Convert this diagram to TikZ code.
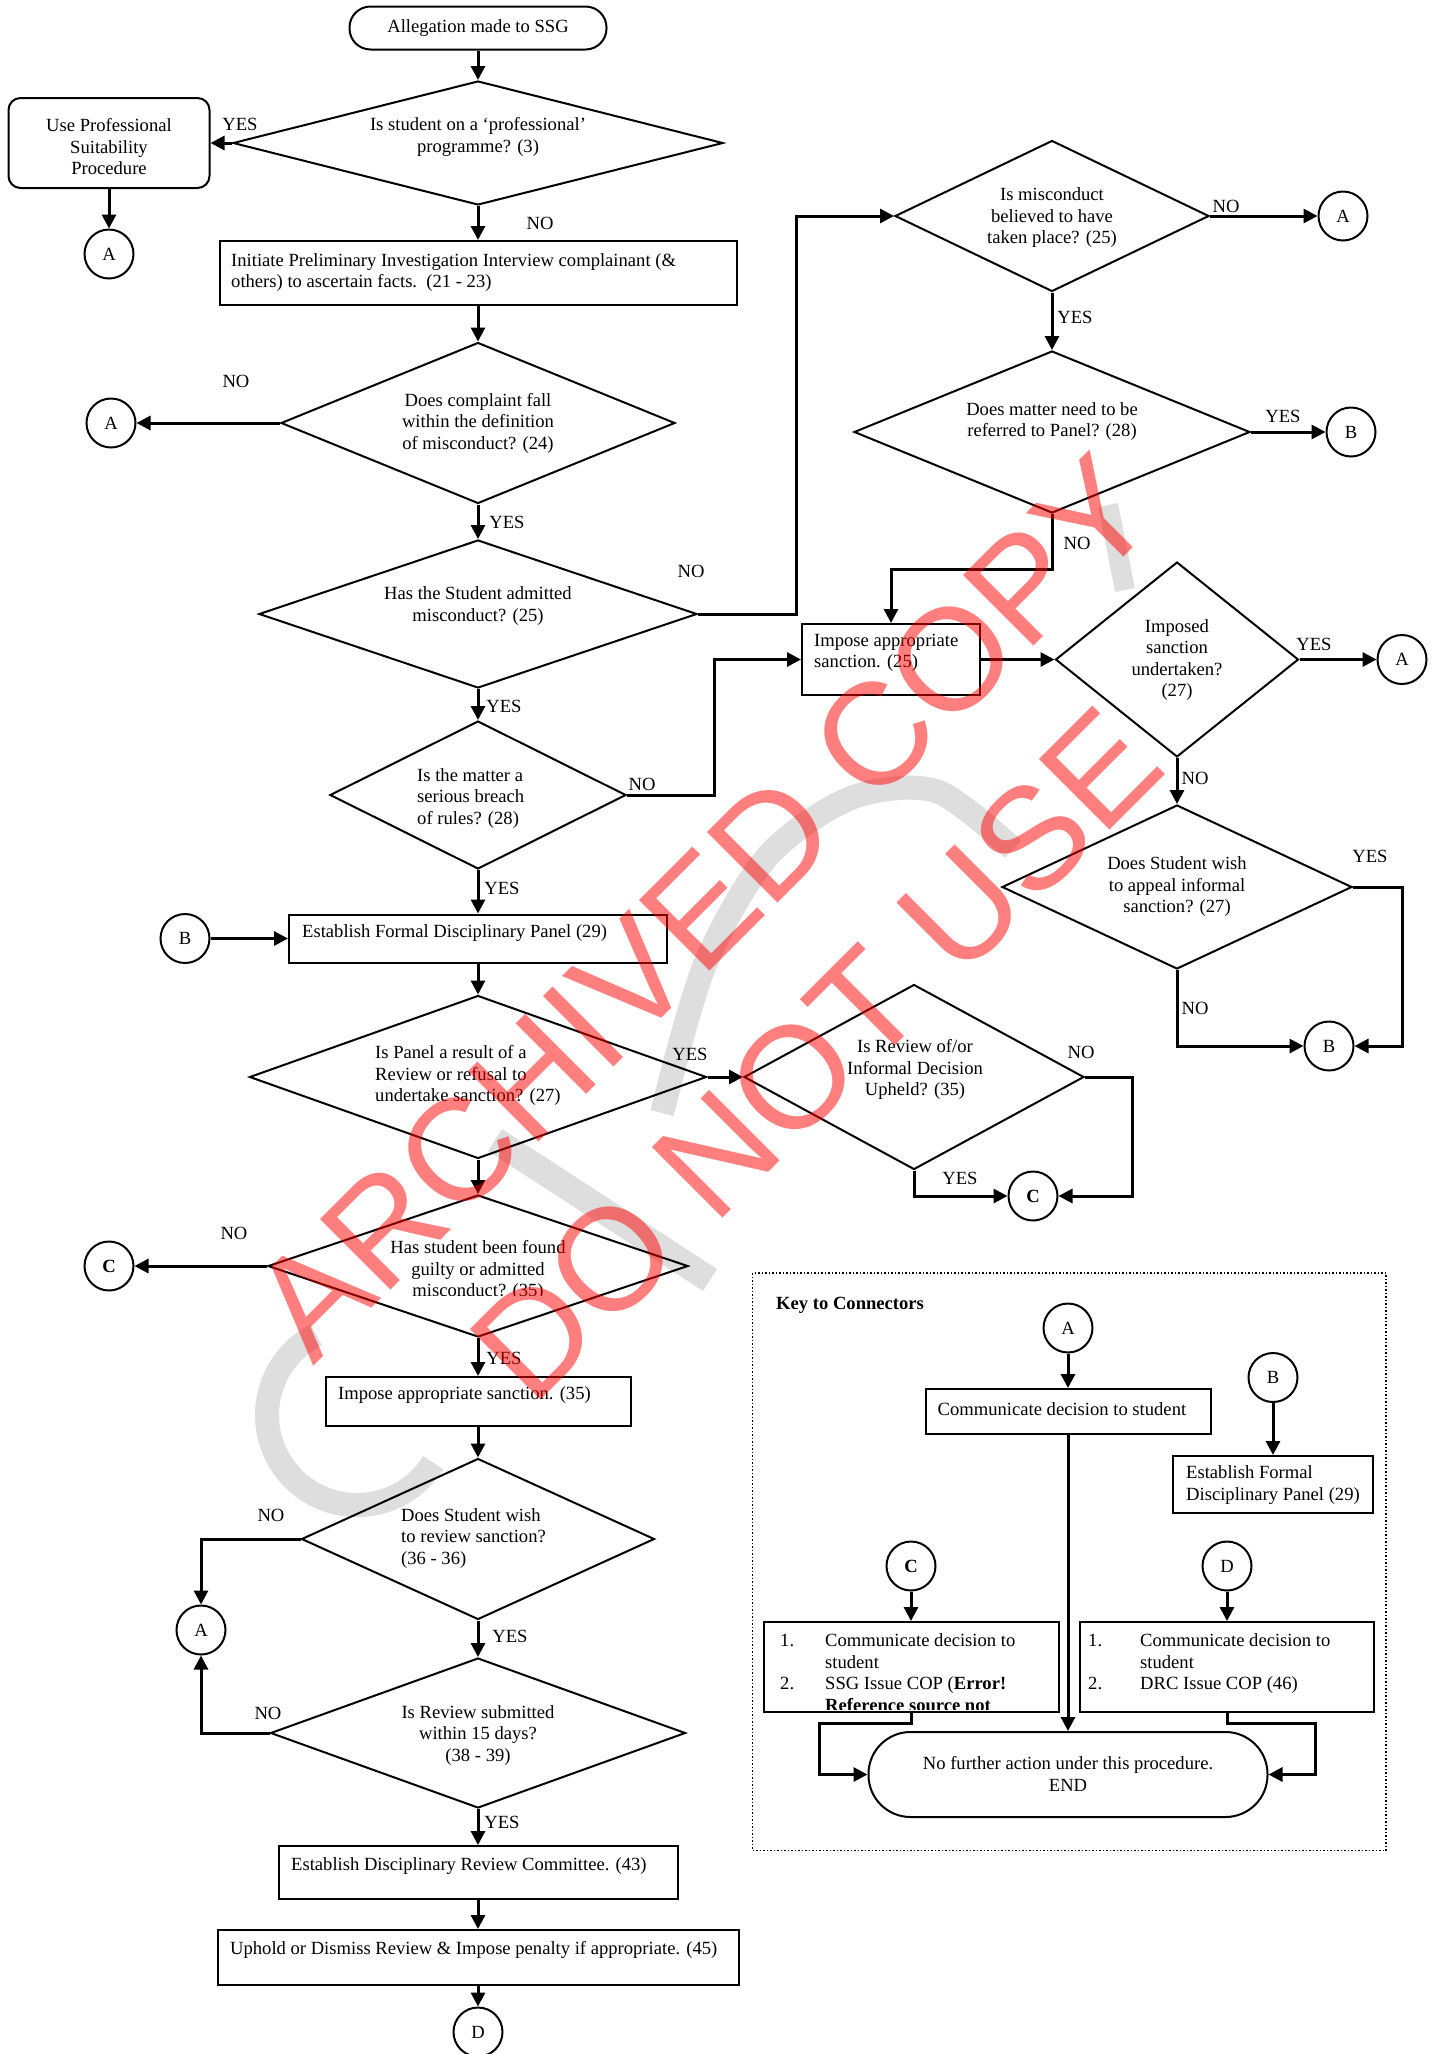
\documentclass[tikz,border=0pt]{standalone}
\usepackage{fontspec}
\setmainfont{Liberation Serif}
\newfontfamily\wmfont{Liberation Sans}
\usetikzlibrary{shapes.geometric,arrows.meta}
\definecolor{wmgrey}{RGB}{222,222,222}
\begin{document}
\begin{tikzpicture}[x=1pt,y=-1pt,
  every node/.style={font=\fontsize{18.6}{21.5}\selectfont, inner sep=0pt},
  shp/.style={draw, line width=2pt},
  dia/.style={shp, diamond, inner sep=0pt},
  boxn/.style={shp, rectangle},
  circ/.style={shp, circle, minimum size=49pt},
  conn/.style={line width=3pt, -{Triangle[length=14pt,width=14pt]}},
  tl/.style={align=left, anchor=west},
  tc/.style={align=center},
  kl/.style={anchor=base west},
  grey band/.style={wmgrey, line width=24pt},
  wm/.style={font=\wmfont\fontsize{145}{145}\selectfont, text=red, text opacity=0.5, rotate=45}
]
\useasboundingbox (0,0) rectangle (1439,2054);
\fill[white] (0,0) rectangle (1439,2054);

% grey background logo (approximation)
\draw[grey band] (357,1415) ++(117:90pt) arc[start angle=117, end angle=328, radius=90pt];
\draw[grey band] plot[smooth] coordinates {(662,1113) (704,967) (767,857) (851,798) (936,791) (1013,849)};
\draw[grey band, line width=26pt] (495,1140) -- (710,1280);
\draw[grey band, line width=20pt] (1108,505) -- (1125,590);

% ---------- main column ----------
\node[boxn, rounded corners=21pt, minimum width=257pt, minimum height=43pt] (start) at (478,28) {Allegation made to SSG};
\node[dia, minimum width=490pt, minimum height=124pt] (d1) at (478,143) {};
\node[tc] (t1) at (478,137) {Is student on a ‘professional’\\programme? (3)};
\node[boxn, rounded corners=12pt, minimum width=201pt, minimum height=90pt] (ups) at (109,143) {};
\node[tc] (tups) at (109,147) {Use Professional\\Suitability\\Procedure};
\node (l1) at (240,124) {YES};
\node[circ] (ca1) at (109,254) {A};
\node (l2) at (540,223) {NO};
\node[boxn, minimum width=517pt, minimum height=64pt] (b1) at (478,273) {};
\node[tl] (tb1) at (231,272.5) {Initiate Preliminary Investigation Interview complainant (\&\\others) to ascertain facts.\ \ (21 - 23)};

\node[dia, minimum width=394pt, minimum height=161pt] (d2) at (478,423) {};
\node[tc] (t2) at (478,423) {Does complaint fall\\within the definition\\of misconduct? (24)};
\node (l3) at (236,381) {NO};
\node[circ] (ca2) at (111,423) {A};
\node (l4) at (507,522) {YES};

\node[dia, minimum width=438pt, minimum height=148pt] (d3) at (478,614) {};
\node[tc] (t3) at (478,606) {Has the Student admitted\\misconduct? (25)};
\node (l5) at (691,571) {NO};
\node (l6) at (504,706) {YES};

\node[dia, minimum width=296pt, minimum height=148pt] (d4) at (478,795) {};
\node[tl] (t4) at (417,798.5) {Is the matter a\\serious breach\\of rules? (28)};
\node (l7) at (642,784) {NO};

% ---------- right column ----------
\node[dia, minimum width=314pt, minimum height=151pt] (d5) at (1052,216) {};
\node[tc] (t5) at (1052,218) {Is misconduct\\believed to have\\taken place? (25)};
\node (l8) at (1226,206) {NO};
\node[circ] (ca3) at (1343,216) {A};
\node (l9) at (1075,317) {YES};

\node[dia, minimum width=396pt, minimum height=162pt] (d6) at (1052,432) {};
\node[tc] (t6) at (1052,421.5) {Does matter need to be\\referred to Panel? (28)};
\node (l10) at (1283,416) {YES};
\node[circ] (cb1) at (1351,432) {B};
\node (l11) at (1077,543) {NO};

\node[boxn, minimum width=178pt, minimum height=71pt] (imp25) at (891,659.5) {};
\node[tl] (timp25) at (814,653) {Impose appropriate\\sanction. (25)};
\node[dia, minimum width=243pt, minimum height=195pt] (d7) at (1177,659.5) {};
\node[tc] (t7) at (1177,660) {Imposed\\sanction\\undertaken?\\(27)};
\node (l12) at (1314,644) {YES};
\node[circ] (ca4) at (1402,659.5) {A};
\node (l13) at (1195,778) {NO};

\node[dia, minimum width=350pt, minimum height=164pt] (d8) at (1177,887) {};
\node[tc] (t8) at (1177,887) {Does Student wish\\to appeal informal\\sanction? (27)};
\node (l14) at (1370,856) {YES};
\node[circ] (cb2) at (1329,1046) {B};
\node (l15) at (1195,1008) {NO};

% ---------- middle ----------
\node (l16) at (502,888) {YES};
\node[boxn, minimum width=378pt, minimum height=48pt] (fp) at (478,938.5) {};
\node[tl] (tfp) at (302,933) {Establish Formal Disciplinary Panel (29)};
\node[circ] (cb3) at (185,938.5) {B};

\node[dia, minimum width=457pt, minimum height=163pt] (d9) at (478,1077) {};
\node[tl] (t9) at (375,1075.5) {Is Panel a result of a\\Review or refusal to\\undertake sanction? (27)};
\node (l17) at (690,1054) {YES};

\node[dia, minimum width=340pt, minimum height=185pt] (d10) at (914,1077) {};
\node[tc] (t10) at (915,1069.5) {Is Review of/or\\Informal Decision\\Upheld? (35)};
\node (l18) at (1081,1052) {NO};
\node[circ] (cc2) at (1033,1196) {\bfseries C};
\node (l19) at (960,1178) {YES};

\node[dia, minimum width=420pt, minimum height=142pt] (d11) at (478,1266) {};
\begin{scope}
\clip (250,1225) rectangle (720,1295);
\node[tc] (t11) at (478,1270.5) {Has student been found\\guilty or admitted\\misconduct? (35)};
\end{scope}
\node (l20) at (234,1233) {NO};
\node[circ] (cc1) at (109,1266) {\bfseries C};
\node (l21) at (504,1358) {YES};

\node[boxn, minimum width=305pt, minimum height=49pt] (imp35) at (478,1401.5) {};
\node[tl] (timp35) at (338,1395) {Impose appropriate sanction. (35)};

\node[dia, minimum width=353pt, minimum height=161pt] (d12) at (478,1539) {};
\node[tl] (t12) at (401,1538.5) {Does Student wish\\to review sanction?\\(36 - 36)};
\node (l22) at (271,1515) {NO};
\node[circ] (ca5) at (201,1630) {A};
\node (l23) at (510,1636) {YES};

\node[dia, minimum width=415pt, minimum height=150pt] (d13) at (478,1733) {};
\node[tc] (t13) at (478,1735.5) {Is Review submitted\\within 15 days?\\(38 - 39)};
\node (l24) at (268,1713) {NO};
\node (l25) at (502,1822) {YES};

\node[boxn, minimum width=399pt, minimum height=53pt] (drc) at (478,1872.5) {};
\node[tl] (tdrc) at (291,1866) {Establish Disciplinary Review Committee. (43)};
\node[boxn, minimum width=521pt, minimum height=55pt] (uph) at (478,1957.5) {};
\node[tl] (tuph) at (230,1950) {Uphold or Dismiss Review \& Impose penalty if appropriate. (45)};
\node[circ] (cd1) at (478,2032) {D};

% ---------- connectors ----------
\coordinate (j1) at (796,216);
\coordinate (j2) at (714,659.5);
\coordinate (j3) at (1052,569);
\coordinate (j4) at (1402,887);
\coordinate (j5) at (1132,1077);
\draw[conn] (start.south) -- (d1.north);
\draw[conn] (d1.west) -- (ups.east);
\draw[conn] (ups.south) -- (ca1.north);
\draw[conn] (d1.south) -- (b1.north);
\draw[conn] (b1.south) -- (d2.north);
\draw[conn] (d2.west) -- (ca2.east);
\draw[conn] (d2.south) -- (d3.north);
\draw[conn] (d3.south) -- (d4.north);
\draw[conn] (d3.east) -| (j1) -- (d5.west);
\draw[conn] (d4.east) -| (j2) -- (imp25.west);
\draw[conn] (d5.east) -- (ca3.west);
\draw[conn] (d5.south) -- (d6.north);
\draw[conn] (d6.east) -- (cb1.west);
\draw[conn] (d6.south) -- (j3) -| (imp25.north);
\draw[conn] (imp25.east) -- (d7.west);
\draw[conn] (d7.east) -- (ca4.west);
\draw[conn] (d7.south) -- (d8.north);
\draw[conn] (d8.east) -- (j4) |- (cb2.east);
\draw[conn] (d8.south) |- (cb2.west);
\draw[conn] (d4.south) -- (fp.north);
\draw[conn] (cb3.east) -- (fp.west);
\draw[conn] (fp.south) -- (d9.north);
\draw[conn] (d9.east) -- (d10.west);
\draw[conn] (d10.east) -- (j5) |- (cc2.east);
\draw[conn] (d10.south) |- (cc2.west);
\draw[conn] (d9.south) -- (d11.north);
\draw[conn] (d11.west) -- (cc1.east);
\draw[conn] (d11.south) -- (imp35.north);
\draw[conn] (imp35.south) -- (d12.north);
\draw[conn] (d12.west) -| (ca5.north);
\draw[conn] (d12.south) -- (d13.north);
\draw[conn] (d13.west) -| (ca5.south);
\draw[conn] (d13.south) -- (drc.north);
\draw[conn] (drc.south) -- (uph.north);
\draw[conn] (uph.south) -- (cd1.north);

% ---------- key ----------
\node[draw, line width=1.5pt, dotted, minimum width=633.5pt, minimum height=577.5pt] (key) at (1069.25,1561.75) {};
\node[anchor=west, font=\bfseries\fontsize{18.6}{21.5}\selectfont] (tkey) at (776,1305) {Key to Connectors};
\node[circ] (kA) at (1068,1328) {A};
\node[boxn, minimum width=285pt, minimum height=45pt] (kcomm) at (1068,1411.5) {};
\node[tl] (tkcomm) at (937.5,1409) {Communicate decision to student};
\node[circ] (kB) at (1273,1377.5) {B};
\node[boxn, minimum width=200pt, minimum height=57pt] (kfp) at (1273,1484.5) {};
\node[tl] (tkfp) at (1186,1485) {Establish Formal\\Disciplinary Panel (29)};
\node[circ] (kC) at (911,1566) {\bfseries C};
\node[boxn, minimum width=295pt, minimum height=89.5pt] (kcb) at (911,1666.75) {};
\node[circ] (kD) at (1227,1566) {D};
\node[boxn, minimum width=294pt, minimum height=89.5pt] (kdb) at (1227,1666.75) {};
\node[boxn, rounded corners=42pt, minimum width=399pt, minimum height=85pt] (kend) at (1068,1774.5) {};
\node[tc] (tkend) at (1068,1774) {No further action under this procedure.\\END};

\begin{scope}
\clip (765,1624) rectangle (1056,1709.5);
\node[kl] (kc1n) at (780,1646) {1.};
\node[kl] (kc1) at (825,1646) {Communicate decision to};
\node[kl] (kc1b) at (825,1668) {student};
\node[kl] (kc2n) at (780,1689) {2.};
\node[kl] (kc2) at (825,1689) {SSG Issue COP (\textbf{Error!}};
\node[kl] (kc3) at (825,1711) {\textbf{Reference source not}};
\end{scope}
\node[kl] (kd1n) at (1088,1646) {1.};
\node[kl] (kd1) at (1140,1646) {Communicate decision to};
\node[kl] (kd1b) at (1140,1668) {student};
\node[kl] (kd2n) at (1088,1689) {2.};
\node[kl] (kd2) at (1140,1689) {DRC Issue COP (46)};

\draw[conn] (kA.south) -- (kcomm.north);
\draw[conn] (kcomm.south) -- (kend.north);
\draw[conn] (kB.south) -- (kfp.north);
\draw[conn] (kC.south) -- (kcb.north);
\draw[conn] (kD.south) -- (kdb.north);
\draw[conn] (kcb.south) -- ++(0,10.5) -- ++(-92,0) |- (kend.west);
\draw[conn] (kdb.south) -- ++(0,10.5) -- ++(88,0) |- (kend.east);

% ---------- watermark ----------
\node[wm] (wm1) at (703,907) {ARCHIVED COPY};
\node[wm] (wm2) at (816,1054) {DO NOT USE};
\end{tikzpicture}
\end{document}
